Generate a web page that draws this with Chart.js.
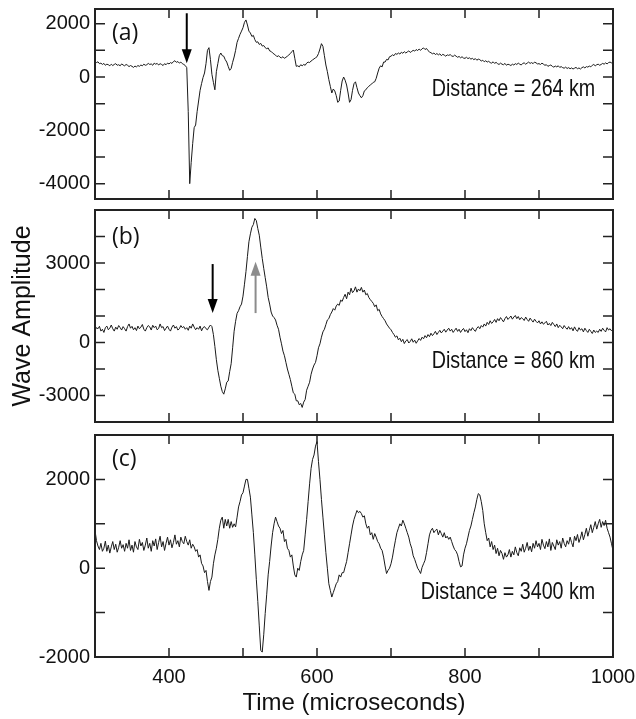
<!DOCTYPE html>
<html>
<head>
<meta charset="utf-8">
<script src="https://cdn.jsdelivr.net/npm/chart.js@4.4.0/dist/chart.umd.min.js"></script>
<style>
  body { margin: 0; background: #fff; }
  #wrap { position: relative; width: 636px; height: 719px; }
  canvas { position: absolute; left: 0; }
</style>
</head>
<body>
<div id="wrap">
  <canvas id="chart-a" width="636" height="210" style="top:0px"></canvas>
  <canvas id="chart-b" width="636" height="230" style="top:200px"></canvas>
  <canvas id="chart-c" width="636" height="294" style="top:425px"></canvas>
</div>
<script>
// Sampling of the traces (microseconds)
const t0 = 300
const dt = 2

// Trace (a), one row = 40 microseconds
const trace_a = [
    600, 540, 570, 500, 520, 470, 510, 440, 480, 460, 420, 480, 430, 470, 500, 440, 460, 420, 490, 450,
    420, 470, 440, 390, 430, 400, 360, 410, 380, 430, 400, 450, 420, 480, 440, 460, 510, 470, 490, 440,
    520, 480, 510, 450, 500, 470, 430, 500, 460, 520, 490, 540, 510, 580, 610, 550, 580, 520, 560, 500,
    470, 430, 350, -1300, -4000, -3200, -2500, -1900, -1800, -1300, -900, -500, -250, -20, 150, 500, 1000, 1100, 650, 100,
    -200, -480, 200, 500, 800, 900, 800, 780, 650, 560, 400, 250, 320, 550, 750, 1000, 1300, 1450, 1600, 1720,
    1850, 2050, 2140, 1950, 1720, 1650, 1520, 1560, 1400, 1300, 1320, 1220, 1260, 1160, 1180, 1100, 1060, 1090, 980, 960,
    900, 860, 820, 760, 800, 740, 720, 760, 700, 740, 780, 830, 880, 950, 1010, 700, 400, 420, 380, 460,
    420, 470, 440, 520, 560, 540, 600, 640, 680, 720, 760, 880, 1050, 1250, 1150, 800, 450, 200, -100, -350,
    -600, -450, -520, -700, -950, -900, -500, -150, 0, -120, -300, -600, -950, -850, -500, -250, -180, -400, -600, -700,
    -780, -700, -520, -480, -400, -350, -300, -260, -200, -180, -50, 150, 330, 420, 380, 560, 560, 660, 640, 760,
    780, 830, 800, 880, 850, 900, 860, 930, 890, 950, 900, 940, 980, 920, 960, 1000, 970, 1030, 990, 1050,
    1000, 1060, 1090, 1030, 1070, 990, 940, 910, 870, 900, 840, 880, 830, 870, 800, 850, 820, 780, 830, 810,
    840, 790, 770, 820, 780, 740, 770, 720, 760, 710, 700, 740, 690, 720, 670, 700, 650, 690, 630, 670,
    650, 600, 630, 570, 610, 560, 590, 540, 520, 570, 510, 550, 500, 470, 520, 480, 460, 510, 440, 480,
    460, 430, 480, 450, 500, 470, 520, 480, 450, 510, 530, 480, 520, 560, 510, 540, 500, 560, 530, 490,
    500, 470, 520, 480, 440, 460, 400, 430, 450, 400, 370, 410, 380, 420, 360, 390, 350, 330, 370, 320,
    350, 310, 340, 300, 330, 360, 310, 340, 300, 350, 380, 340, 390, 370, 410, 380, 440, 470, 420, 460,
    480, 440, 470, 510, 480, 530, 490, 540, 560, 530, 580
]

// Trace (b)
const trace_b = [
    450, 560, 520, 610, 430, 500, 380, 560, 620, 480, 540, 660, 520, 430, 580, 500, 640, 560, 470, 600,
    520, 430, 600, 700, 540, 610, 480, 560, 450, 620, 520, 580, 680, 500, 430, 560, 640, 590, 470, 650,
    560, 620, 480, 530, 700, 560, 600, 450, 540, 620, 500, 430, 580, 660, 540, 600, 470, 520, 640, 560,
    600, 500, 560, 460, 620, 540, 700, 580, 480, 560, 500, 620, 440, 560, 600, 520, 480, 580, 660, 600,
    300, -150, -650, -1050, -1350, -1650, -1850, -1950, -1750, -1500, -1450, -1100, -800, -200, 425, 800, 1100, 1200, 1350, 1450,
    1750, 2200, 2675, 3250, 3800, 4100, 4350, 4450, 4680, 4600, 4300, 4050, 3600, 3175, 2800, 2450, 2100, 1700, 1450, 1150,
    1000, 940, 850, 650, 500, 200, -50, -325, -500, -750, -1000, -1200, -1400, -1650, -1900, -1950, -2200, -2200, -2350, -2300,
    -2450, -2250, -2150, -1800, -1650, -1500, -1200, -1000, -850, -750, -500, -200, -50, 200, 400, 500, 675, 850, 900, 1050,
    1150, 1280, 1220, 1380, 1450, 1400, 1600, 1550, 1700, 1820, 1650, 1900, 1800, 2050, 1880, 1950, 2100, 1900, 2020, 1950,
    2080, 1900, 1980, 1800, 1850, 1700, 1620, 1550, 1480, 1350, 1420, 1200, 1250, 1080, 980, 900, 820, 700, 620, 540,
    480, 380, 300, 200, 250, 100, 160, 30, 120, -40, 60, 110, -20, 40, 140, 10, 90, -30, 60, 150,
    80, 200, 140, 260, 180, 300, 220, 350, 260, 330, 420, 300, 380, 460, 360, 430, 500, 390, 470, 540,
    430, 500, 380, 460, 540, 420, 500, 380, 470, 530, 410, 480, 370, 520, 450, 560, 480, 420, 540, 600,
    520, 640, 580, 700, 620, 760, 680, 820, 720, 780, 870, 760, 900, 820, 940, 860, 780, 900, 980, 870,
    930, 1000, 880, 960, 1020, 900, 980, 860, 940, 900, 830, 960, 870, 800, 920, 840, 770, 880, 800, 740,
    820, 700, 780, 690, 740, 800, 660, 720, 640, 760, 680, 600, 700, 560, 650, 590, 520, 640, 560, 500,
    600, 500, 560, 440, 590, 480, 420, 560, 470, 520, 400, 540, 450, 380, 500, 420, 340, 470, 380, 430,
    380, 500, 420, 540, 460, 400, 560, 470, 520, 440, 500
]

// Trace (c)
const trace_c = [
    850, 620, 500, 420, 560, 380, 450, 610, 380, 520, 340, 480, 600, 420, 540, 360, 470, 620, 450, 530,
    380, 560, 450, 640, 400, 520, 360, 600, 480, 420, 650, 500, 580, 400, 520, 680, 450, 560, 380, 620,
    500, 660, 420, 580, 720, 480, 600, 400, 560, 700, 520, 640, 460, 580, 750, 540, 620, 480, 700, 600,
    550, 720, 600, 520, 640, 450, 540, 480, 380, 420, 250, 300, 110, 50, -100, -50, -300, -500, -300, -200,
    100, 300, 450, 650, 900, 1080, 1150, 900, 1100, 950, 1100, 900, 1050, 920, 1000, 930, 1150, 1380, 1500, 1650,
    1700, 1850, 2000, 2000, 1800, 1600, 1200, 800, 300, -250, -750, -1300, -1850, -1890, -1500, -1020, -600, -150, 150, 500,
    800, 1000, 1150, 1050, 950, 900, 780, 850, 600, 650, 450, 400, 250, 300, 50, -150, -200, 0, -50, 150,
    300, 400, 750, 1100, 1500, 1900, 2250, 2450, 2550, 2750, 2850, 2400, 2000, 1550, 1150, 750, 350, 0, -350, -500,
    -650, -550, -450, -350, -300, -150, -200, -100, -100, 30, 150, 350, 550, 750, 950, 1100, 1200, 1300, 1250, 1280,
    1230, 1150, 1180, 1000, 900, 950, 750, 800, 650, 780, 700, 600, 550, 450, 400, 250, 50, -120, -50, 0,
    100, 250, 450, 630, 800, 900, 1000, 950, 1080, 1000, 900, 800, 700, 550, 450, 280, 200, 100, 0, -50,
    -120, 20, 100, 180, 350, 550, 750, 850, 900, 800, 850, 880, 750, 850, 780, 700, 800, 680, 720, 650,
    700, 600, 500, 420, 380, 300, 150, 30, 50, 300, 450, 550, 700, 850, 950, 1100, 1250, 1380, 1550, 1680,
    1650, 1500, 1300, 1000, 800, 620, 680, 480, 600, 420, 520, 330, 450, 280, 400, 330, 200, 350, 250, 300,
    420, 250, 380, 300, 480, 350, 280, 460, 380, 540, 360, 450, 580, 400, 500, 370, 560, 450, 620, 480,
    560, 420, 650, 520, 440, 600, 480, 660, 400, 580, 500, 420, 640, 520, 600, 450, 680, 560, 480, 620,
    540, 700, 580, 480, 720, 620, 760, 580, 680, 820, 640, 760, 900, 720, 850, 980, 800, 920, 1050, 880,
    1000, 1100, 920, 1050, 960, 1080, 900, 800, 700, 550, 400
]

// Panel names and distances
const panels = ['(a)', '(b)', '(c)']
const distances = ['Distance = 264 km', 'Distance = 860 km', 'Distance = 3400 km']

// Axis ticks
const x_ticks = [300, 400, 500, 600, 700, 800, 900, 1000]
const x_labels = [400, 600, 800, 1000]
const y_ticks_a = [-4000, -3000, -2000, -1000, 0, 1000, 2000]
const y_label_values_a = [-4000, -2000, 0, 2000]
const y_label_texts_a = ['-4000', '-2000', '0', '2000']
const y_ticks_b = [-2000, -1000, 0, 1000, 2000, 3000, 4000]
const y_label_values_b = [-2000, 0, 3000]
const y_label_texts_b = ['-3000', '0', '3000']
const y_ticks_c = [-2000, -1000, 0, 1000, 2000]
const y_label_values_c = [-2000, 0, 2000]
const y_label_texts_c = ['-2000', '0', '2000']

// Arrows: [time, tail, tip]
const arrows_a = [[424, 2390, 513]]
const arrows_b = [[459, 2960, 1110], [517, 1110, 3050]]

const font_family = "'Liberation Sans', Arial, Helvetica, sans-serif"
const ink = '#111'

// Frame, inward ticks, panel letter, distance text and arrows
const panelPlugin = {
    id: 'panel',
    afterDatasetsDraw(chart, args, opts) {
        const ctx = chart.ctx
        const a = chart.chartArea
        const x = chart.scales.x
        const y = chart.scales.y
        ctx.save()

        // inward tick marks on all four sides
        ctx.strokeStyle = '#222'
        ctx.lineWidth = 1.5
        ctx.beginPath()
        x_ticks.forEach(v => {
            const px = x.getPixelForValue(v)
            ctx.moveTo(px, a.top)
            ctx.lineTo(px, a.top + 9)
            ctx.moveTo(px, a.bottom)
            ctx.lineTo(px, a.bottom - 9)
        })
        opts.yTicks.forEach(v => {
            const py = y.getPixelForValue(v)
            ctx.moveTo(a.left, py)
            ctx.lineTo(a.left + 10, py)
            ctx.moveTo(a.right, py)
            ctx.lineTo(a.right - 10, py)
        })
        ctx.stroke()

        // frame
        ctx.lineWidth = 2
        ctx.strokeRect(a.left, a.top, a.right - a.left, a.bottom - a.top)

        // panel letter
        ctx.fillStyle = ink
        ctx.font = "23px 'Open Sans', 'DejaVu Sans', sans-serif"
        ctx.textAlign = 'left'
        ctx.textBaseline = 'middle'
        ctx.fillText(opts.panel, a.left + 17, a.top + opts.letterDy)

        // distance text, condensed
        ctx.save()
        ctx.translate(x.getPixelForValue(976), y.getPixelForValue(opts.textV))
        ctx.scale(0.82, 1)
        ctx.font = '24px ' + font_family
        ctx.textAlign = 'right'
        ctx.fillText(opts.distance, 0, 0)
        ctx.restore()

        // arrows
        opts.arrows.forEach((arr, i) => {
            const px = x.getPixelForValue(arr[0])
            const pTail = y.getPixelForValue(arr[1])
            const pTip = y.getPixelForValue(arr[2])
            const dir = pTip > pTail ? 1 : -1
            ctx.strokeStyle = opts.arrowColors[i]
            ctx.fillStyle = opts.arrowColors[i]
            ctx.lineWidth = 2
            ctx.beginPath()
            ctx.moveTo(px, pTail)
            ctx.lineTo(px, pTip - dir * 10)
            ctx.stroke()
            ctx.beginPath()
            ctx.moveTo(px, pTip)
            ctx.lineTo(px - 5, pTip - dir * 14)
            ctx.lineTo(px + 5, pTip - dir * 14)
            ctx.closePath()
            ctx.fill()
        })
        ctx.restore()
    }
}

function makeChart(canvasId, trace, s) {
    const points = trace.map((v, i) => ({x: t0 + i * dt, y: v}))
    const config = {
        type: 'line',
        data: {
            datasets: [{
                data: points,
                borderColor: '#1a1a1a',
                borderWidth: 1,
                pointRadius: 0,
                tension: 0,
            }]
        },
        options: {
            responsive: false,
            animation: false,
            layout: {
                autoPadding: false,
                padding: {top: s.padTop, right: 23, left: 0, bottom: 0},
            },
            plugins: {
                legend: {display: false},
                tooltip: {enabled: false},
                panel: s.panel,
            },
            scales: {
                x: {
                    type: 'linear',
                    min: 300,
                    max: 1000,
                    afterBuildTicks: scale => {
                        scale.ticks = x_ticks.map(v => ({value: v}))
                    },
                    afterFit: scale => {
                        // fixed axis size, no extra room for edge labels
                        scale.height = s.xHeight
                        scale.paddingLeft = 0
                        scale.paddingRight = 0
                    },
                    grid: {display: false, drawTicks: false},
                    border: {display: false},
                    ticks: {
                        display: s.xLabels,
                        autoSkip: false,
                        maxRotation: 0,
                        padding: 8,
                        color: ink,
                        font: {family: font_family, size: 20},
                        callback: v => x_labels.includes(v) ? String(v) : '',
                    },
                    title: {
                        display: s.xLabels,
                        text: 'Time (microseconds)',
                        color: ink,
                        font: {family: font_family, size: 24},
                        padding: {top: 0, bottom: 1},
                    },
                },
                y: {
                    type: 'linear',
                    min: s.yMin,
                    max: s.yMax,
                    afterBuildTicks: scale => {
                        scale.ticks = s.yTicks.map(v => ({value: v}))
                    },
                    afterFit: scale => {
                        scale.width = 95
                        scale.paddingTop = 0
                        scale.paddingBottom = 0
                    },
                    grid: {display: false, drawTicks: false},
                    border: {display: false},
                    ticks: {
                        autoSkip: false,
                        padding: 5,
                        color: ink,
                        font: {family: font_family, size: 20},
                        callback: v => {
                            const i = s.labelValues.indexOf(v)
                            return i >= 0 ? s.labelTexts[i] : ''
                        },
                    },
                    title: {
                        display: s.yTitle,
                        text: 'Wave Amplitude',
                        color: ink,
                        font: {family: font_family, size: 25},
                        padding: {top: 8, bottom: 0},
                    },
                },
            },
        },
        plugins: [panelPlugin],
    }
    return new Chart(document.getElementById(canvasId).getContext('2d'), config)
}

makeChart('chart-a', trace_a, {
    padTop: 9, xHeight: 11, xLabels: false, yTitle: false,
    yMin: -4575, yMax: 2550, yTicks: y_ticks_a,
    labelValues: y_label_values_a, labelTexts: y_label_texts_a,
    panel: {
        panel: panels[0], distance: distances[0], textV: -450, letterDy: 24,
        yTicks: y_ticks_a, arrows: arrows_a, arrowColors: ['#000'],
    },
})

makeChart('chart-b', trace_b, {
    padTop: 10, xHeight: 8, xLabels: false, yTitle: true,
    yMin: -3000, yMax: 5000, yTicks: y_ticks_b,
    labelValues: y_label_values_b, labelTexts: y_label_texts_b,
    panel: {
        panel: panels[1], distance: distances[1], textV: -730, letterDy: 27,
        yTicks: y_ticks_b, arrows: arrows_b, arrowColors: ['#000', '#8c8c8c'],
    },
})

makeChart('chart-c', trace_c, {
    padTop: 10, xHeight: 62, xLabels: true, yTitle: false,
    yMin: -2000, yMax: 3000, yTicks: y_ticks_c,
    labelValues: y_label_values_c, labelTexts: y_label_texts_c,
    panel: {
        panel: panels[2], distance: distances[2], textV: -550, letterDy: 24,
        yTicks: y_ticks_c, arrows: [], arrowColors: [],
    },
})
</script>
</body>
</html>
